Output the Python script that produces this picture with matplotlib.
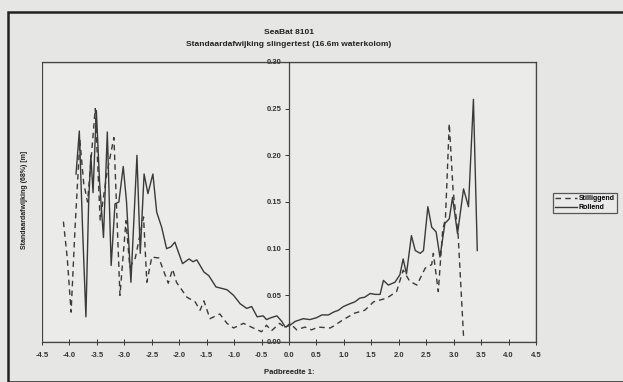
import matplotlib
matplotlib.use("Agg")
import matplotlib.pyplot as plt
from matplotlib.patches import Rectangle

plt.rcParams['font.family'] = ['Liberation Sans', 'DejaVu Sans']

# Rollend (solid)
rol_x = [-3.88, -3.82, -3.76, -3.70, -3.65, -3.61, -3.57, -3.51, -3.45, -3.38, -3.31, -3.24,
         -3.17, -3.10, -3.02, -2.96, -2.88, -2.77, -2.71, -2.64, -2.57, -2.48, -2.41, -2.32,
         -2.23, -2.15, -2.08, -1.94, -1.82, -1.75, -1.68, -1.55, -1.46, -1.33, -1.13, -1.01,
         -0.89, -0.77, -0.68, -0.58, -0.47, -0.41, -0.33, -0.22, -0.13, -0.07, 0.02, 0.11,
         0.26, 0.38, 0.50, 0.60, 0.72, 0.81, 0.90, 0.99, 1.11, 1.20, 1.29, 1.38, 1.48, 1.57,
         1.66, 1.72, 1.81, 1.93, 2.02, 2.08, 2.14, 2.23, 2.30, 2.39, 2.45, 2.53, 2.60, 2.68,
         2.75, 2.84, 2.92, 2.98, 3.07, 3.18, 3.27, 3.36, 3.43]
rol_y = [0.180, 0.226, 0.120, 0.027, 0.150, 0.200, 0.160, 0.248, 0.170, 0.112, 0.225, 0.082,
         0.148, 0.150, 0.188, 0.150, 0.064, 0.200, 0.095, 0.180, 0.159, 0.180, 0.139, 0.123,
         0.100, 0.102, 0.107, 0.084, 0.089, 0.086, 0.088, 0.075, 0.071, 0.059, 0.056, 0.050,
         0.041, 0.036, 0.038, 0.027, 0.028, 0.024, 0.026, 0.028, 0.022, 0.016, 0.018, 0.022,
         0.025, 0.024, 0.026, 0.029, 0.029, 0.032, 0.034, 0.038, 0.041, 0.043, 0.047, 0.048,
         0.052, 0.051, 0.051, 0.066, 0.061, 0.064, 0.072, 0.089, 0.073, 0.114, 0.098, 0.095,
         0.098, 0.145, 0.123, 0.118, 0.091, 0.127, 0.132, 0.155, 0.116, 0.164, 0.145, 0.260,
         0.098]

# Stilliggend (dashed)
stil_x = [-4.11, -4.04, -3.97, -3.90, -3.81, -3.74, -3.67, -3.53, -3.44, -3.32, -3.19, -3.08,
          -2.97, -2.90, -2.80, -2.65, -2.59, -2.50, -2.37, -2.29, -2.20, -2.12, -2.05, -1.86,
          -1.71, -1.62, -1.55, -1.44, -1.26, -1.13, -1.01, -0.83, -0.65, -0.50, -0.41, -0.32,
          -0.17, -0.07, 0.02, 0.14, 0.29, 0.41, 0.53, 0.75, 0.81, 0.99, 1.20, 1.38, 1.54,
          1.78, 1.96, 2.08, 2.20, 2.33, 2.48, 2.60, 2.63, 2.72, 2.80, 2.85, 2.92, 2.99, 3.08,
          3.18]
stil_y = [0.129, 0.090, 0.032, 0.120, 0.216, 0.170, 0.150, 0.250, 0.130, 0.180, 0.219, 0.050,
          0.130, 0.080, 0.090, 0.134, 0.064, 0.091, 0.090, 0.077, 0.063, 0.078, 0.064, 0.048,
          0.043, 0.034, 0.044, 0.025, 0.030, 0.020, 0.015, 0.020, 0.015, 0.011, 0.018, 0.012,
          0.020, 0.015, 0.020, 0.013, 0.016, 0.013, 0.016, 0.015, 0.017, 0.024, 0.031, 0.034,
          0.043, 0.047, 0.054, 0.077, 0.065, 0.061, 0.079, 0.083, 0.095, 0.054, 0.120, 0.132,
          0.234, 0.162, 0.116, 0.006]

x_ticks = [-4.5, -4.0, -3.5, -3.0, -2.5, -2.0, -1.5, -1.0, -0.5, 0.0, 0.5, 1.0, 1.5, 2.0,
           2.5, 3.0, 3.5, 4.0, 4.5]
y_ticks = [0.00, 0.05, 0.10, 0.15, 0.20, 0.25, 0.30]

bg = '#e6e6e4'
line_c = '#3a3a3a'

fig = plt.figure(figsize=(6.23, 3.82), dpi=100, facecolor=bg)
ax = fig.add_axes([42/623, 1-342/382, (536-42)/623, (342-62)/382])
ax.set_facecolor('#ebebea')

ax.plot(stil_x, stil_y, color=line_c, lw=1.0, ls=(0, (4, 3)), label='Stilliggend')
ax.plot(rol_x, rol_y, color=line_c, lw=1.0, label='Rollend')

ax.set_xlim(-4.5, 4.5)
ax.set_ylim(0, 0.30)

for s in ['top', 'right', 'bottom']:
    ax.spines[s].set_color('#444444')
    ax.spines[s].set_linewidth(0.9)
ax.spines['left'].set_position(('data', 0))
ax.spines['left'].set_color('#444444')
ax.spines['left'].set_linewidth(0.9)
ax.add_patch(Rectangle((0, 0), 1, 1, transform=ax.transAxes, fill=False,
                       ec='#444444', lw=0.9, zorder=5))

ax.set_xticks(x_ticks)
ax.set_xticklabels([f"{v:.1f}" for v in x_ticks])
ax.set_yticks(y_ticks)
ax.set_yticklabels([f"{v:.2f}" for v in y_ticks])
ax.tick_params(axis='x', direction='inout', length=4, width=0.7, labelsize=5.5,
               colors='#333333', pad=5)
ax.tick_params(axis='y', direction='out', length=3, width=0.7, labelsize=5.5,
               colors='#333333', pad=2)
for lbl in ax.get_xticklabels() + ax.get_yticklabels():
    lbl.set_fontweight('bold')

fig.text(289/623, 1-32/382, 'SeaBat 8101', ha='center', va='center', fontsize=6,
         fontweight='bold', color='#222222')
fig.text(289/623, 1-45/382, 'Standaardafwijking slingertest (16.6m waterkolom)',
         ha='center', va='center', fontsize=6, fontweight='bold', color='#222222')
fig.text(289/623, 1-372/382, 'Padbreedte 1:', ha='center', va='center', fontsize=5.5,
         fontweight='bold', color='#222222')
fig.text(25/623, 1-200/382, 'Standaardafwijking (68%) [m]', ha='center', va='center',
         rotation=90, fontsize=5, fontweight='bold', color='#222222')

leg = fig.legend(loc='center', bbox_to_anchor=(585/623, 1-203/382), fontsize=5,
                 frameon=True, fancybox=False, handlelength=3.2, handletextpad=0.2,
                 borderpad=0.3, labelspacing=0.3, borderaxespad=0)
leg.get_frame().set_edgecolor('#333333')
leg.get_frame().set_linewidth(0.9)
leg.get_frame().set_facecolor('#ececec')
for t in leg.get_texts():
    t.set_fontweight('bold')

fig.patches.append(Rectangle((8/623, 0), 1, 1-12/382, transform=fig.transFigure,
                             fill=False, ec='#222222', lw=1.8))

fig.savefig('out.png', dpi=100, facecolor=bg)
